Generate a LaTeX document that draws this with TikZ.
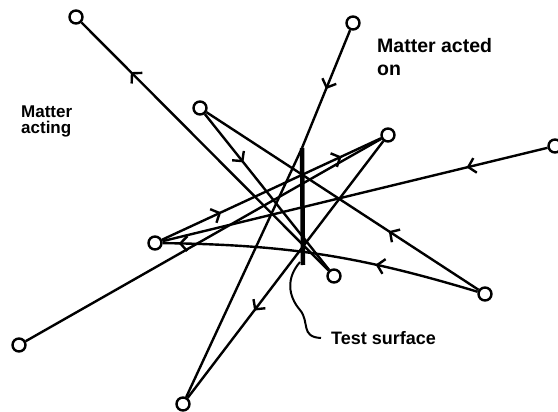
\documentclass[tikz,border=0pt]{standalone}
\usepackage{fontspec}
\setmainfont{Liberation Sans}
\usetikzlibrary{arrows.meta,decorations.markings}
\tikzset{flowtip/.tip={Straight Barb[length=7pt,width=15pt]}}

\begin{document}
\begin{tikzpicture}[
  x=1pt,y=-1pt,
  mass/.style={circle,draw,line width=2.4pt,minimum size=13pt,inner sep=0pt},
  link/.style={line width=2.4pt},
  fwd/.style={postaction={decorate,decoration={markings,
              mark=at position #1 with {\arrow{flowtip}}}}},
  surface/.style={line width=4.5pt},
  label/.style={align=left,inner sep=0pt}
]
\useasboundingbox (0,0) rectangle (558,412);
% the bodies
\node[mass] (a) at (76,17) {};
\node[mass] (b) at (353,23) {};
\node[mass] (c) at (200,108) {};
\node[mass] (d) at (388,135) {};
\node[mass] (e) at (555,146) {};
\node[mass] (f) at (155,243) {};
\node[mass] (g) at (334,276) {};
\node[mass] (h) at (485,294) {};
\node[mass] (i) at (19,345) {};
\node[mass] (j) at (183,404) {};
% test surface
\coordinate (stop) at (302,148);
\coordinate (sbot) at (303,265);
\draw[surface] (stop) -- (sbot);
% interactions
\draw[link,fwd=0.8] (g) -- (a);
\draw[link,fwd=0.5] (b) -- (stop);
\draw[link,fwd=0.31] (c) -- (g);
\draw[link,fwd=0.33] (h) -- (c);
\draw[link,fwd=0.33,fwd=0.95] (h) to[bend right=8] (f);
\draw[link,fwd=0.21] (e) -- (f);
\draw[link,fwd=0.27,fwd=0.82] (f) -- (d);
\draw[link] (i) -- (d);
\draw[link] (j) -- (stop);
\draw[link,fwd=0.66] (d) -- (j);
% labels
\node[label,anchor=north west,font=\bfseries\fontsize{17}{16}\selectfont] (acting) at (21,106) {Matter\\acting};
\node[label,anchor=north west,font=\bfseries\fontsize{19.5}{23}\selectfont] (acted) at (377,38) {Matter acted\\on};
\node[label,anchor=west,font=\bfseries\fontsize{18}{18}\selectfont] (test) at (331,338) {Test surface};
\coordinate (lead) at (300,262);
\draw[link,line width=2pt] (lead) .. controls (286,278) and (288,296) .. (300,310)
  .. controls (310,322) and (300,337) .. ([xshift=-10pt]test.west);
\end{tikzpicture}
\end{document}
